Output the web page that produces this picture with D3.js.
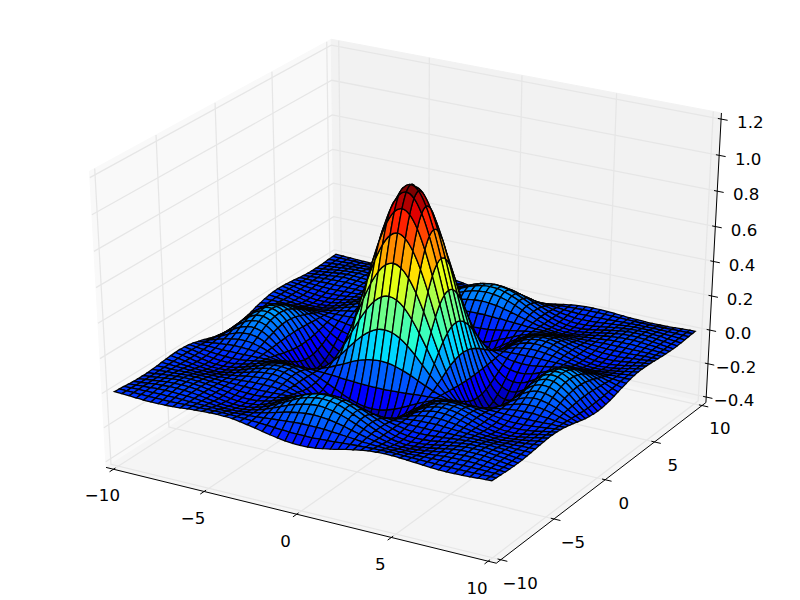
<!DOCTYPE html>
<html>
<head>
<meta charset="utf-8">
<script src="https://cdn.jsdelivr.net/npm/d3@7/dist/d3.min.js"></script>
<style>html,body{margin:0;padding:0;background:#fff}svg{display:block}text{font-family:"DejaVu Sans";font-size:16.67px;fill:#000}</style>
</head>
<body>
<svg id="chart" width="800" height="600"></svg>
<script>
// mesh lines along each horizontal axis
const gridSigned = [-10,-9.6,-9.2,-8.8,-8.4,-8,-7.6,-7.2,-6.8,-6.4,-6,-5.6,-5.2,-4.8,-4.4,-4,-3.6,-3.2,-2.8,-2.4,-2,-1.6,-1.2,-0.8,-0.4,0,0.4,0.8,1.2,1.6,2,2.4,2.8,3.2,3.6,4,4.4,4.8,5.2,5.6,6,6.4,6.8,7.2,7.6,8,8.4,8.8,9.2,9.6,9.9];
// distance from the centre that each table row / column stands for
const gridCoords = [0,0.4,0.8,1.2,1.6,2,2.4,2.8,3.2,3.6,4,4.4,4.8,5.2,5.6,6,6.4,6.8,7.2,7.6,8,8.4,8.8,9.2,9.6,9.9,10];
// surface heights for one quadrant (the surface reads as four-fold symmetric): row = |y|, column = |x|
const zQuadrant = [
[1,.974,.897,.777,.625,.455,.281,.12,-.018,-.123,-.189,-.216,-.208,-.17,-.113,-.047,.018,.073,.11,.127,.124,.102,.067,.024,-.018,-.046,-.054],
[.974,.948,.873,.756,.608,.443,.274,.116,-.018,-.12,-.184,-.211,-.202,-.165,-.11,-.045,.018,.071,.107,.124,.12,.099,.065,.024,-.018,-.045,-.053],
[.897,.873,.804,.696,.56,.408,.252,.107,-.016,-.11,-.17,-.194,-.186,-.152,-.101,-.042,.016,.065,.099,.114,.111,.091,.06,.022,-.016,-.041,-.049],
[.777,.756,.696,.603,.485,.353,.219,.093,-.014,-.095,-.147,-.168,-.161,-.132,-.088,-.036,.014,.056,.086,.099,.096,.079,.052,.019,-.014,-.036,-.042],
[.625,.608,.56,.485,.39,.284,.176,.075,-.011,-.077,-.118,-.135,-.13,-.106,-.07,-.029,.011,.045,.069,.08,.077,.064,.042,.015,-.011,-.029,-.034],
[.455,.443,.408,.353,.284,.207,.128,.054,-.008,-.056,-.086,-.098,-.094,-.077,-.051,-.021,.008,.033,.05,.058,.056,.046,.03,.011,-.008,-.021,-.025],
[.281,.274,.252,.219,.176,.128,.079,.034,-.005,-.035,-.053,-.061,-.058,-.048,-.032,-.013,.005,.02,.031,.036,.035,.029,.019,.007,-.005,-.013,-.015],
[.12,.116,.107,.093,.075,.054,.034,.014,-.002,-.015,-.023,-.026,-.025,-.02,-.013,-.006,.002,.009,.013,.015,.015,.012,.008,.003,-.002,-.006,-.007],
[-.018,-.018,-.016,-.014,-.011,-.008,-.005,-.002,0,.002,.003,.004,.004,.003,.002,.001,0,-.001,-.002,-.002,-.002,-.002,-.001,0,0,.001,.001],
[-.123,-.12,-.11,-.095,-.077,-.056,-.035,-.015,.002,.015,.023,.027,.026,.021,.014,.006,-.002,-.009,-.014,-.016,-.015,-.012,-.008,-.003,.002,.006,.007],
[-.189,-.184,-.17,-.147,-.118,-.086,-.053,-.023,.003,.023,.036,.041,.039,.032,.021,.009,-.003,-.014,-.021,-.024,-.023,-.019,-.013,-.005,.003,.009,.01],
[-.216,-.211,-.194,-.168,-.135,-.098,-.061,-.026,.004,.027,.041,.047,.045,.037,.024,.01,-.004,-.016,-.024,-.028,-.027,-.022,-.014,-.005,.004,.01,.012],
[-.208,-.202,-.186,-.161,-.13,-.094,-.058,-.025,.004,.026,.039,.045,.043,.035,.023,.01,-.004,-.015,-.023,-.026,-.026,-.021,-.014,-.005,.004,.01,.011],
[-.17,-.165,-.152,-.132,-.106,-.077,-.048,-.02,.003,.021,.032,.037,.035,.029,.019,.008,-.003,-.012,-.019,-.022,-.021,-.017,-.011,-.004,.003,.008,.009],
[-.113,-.11,-.101,-.088,-.07,-.051,-.032,-.013,.002,.014,.021,.024,.023,.019,.013,.005,-.002,-.008,-.012,-.014,-.014,-.011,-.007,-.003,.002,.005,.006],
[-.047,-.045,-.042,-.036,-.029,-.021,-.013,-.006,.001,.006,.009,.01,.01,.008,.005,.002,-.001,-.003,-.005,-.006,-.006,-.005,-.003,-.001,.001,.002,.003],
[.018,.018,.016,.014,.011,.008,.005,.002,0,-.002,-.003,-.004,-.004,-.003,-.002,-.001,0,.001,.002,.002,.002,.002,.001,0,0,-.001,-.001],
[.073,.071,.065,.056,.045,.033,.02,.009,-.001,-.009,-.014,-.016,-.015,-.012,-.008,-.003,.001,.005,.008,.009,.009,.007,.005,.002,-.001,-.003,-.004],
[.11,.107,.099,.086,.069,.05,.031,.013,-.002,-.014,-.021,-.024,-.023,-.019,-.012,-.005,.002,.008,.012,.014,.014,.011,.007,.003,-.002,-.005,-.006],
[.127,.124,.114,.099,.08,.058,.036,.015,-.002,-.016,-.024,-.028,-.026,-.022,-.014,-.006,.002,.009,.014,.016,.016,.013,.008,.003,-.002,-.006,-.007],
[.124,.12,.111,.096,.077,.056,.035,.015,-.002,-.015,-.023,-.027,-.026,-.021,-.014,-.006,.002,.009,.014,.016,.015,.013,.008,.003,-.002,-.006,-.007],
[.102,.099,.091,.079,.064,.046,.029,.012,-.002,-.012,-.019,-.022,-.021,-.017,-.011,-.005,.002,.007,.011,.013,.013,.01,.007,.002,-.002,-.005,-.006],
[.067,.065,.06,.052,.042,.03,.019,.008,-.001,-.008,-.013,-.014,-.014,-.011,-.007,-.003,.001,.005,.007,.008,.008,.007,.004,.002,-.001,-.003,-.004],
[.024,.024,.022,.019,.015,.011,.007,.003,0,-.003,-.005,-.005,-.005,-.004,-.003,-.001,0,.002,.003,.003,.003,.002,.002,.001,0,-.001,-.001],
[-.018,-.018,-.016,-.014,-.011,-.008,-.005,-.002,0,.002,.003,.004,.004,.003,.002,.001,0,-.001,-.002,-.002,-.002,-.002,-.001,0,0,.001,.001],
[-.046,-.045,-.041,-.036,-.029,-.021,-.013,-.006,.001,.006,.009,.01,.01,.008,.005,.002,-.001,-.003,-.005,-.006,-.006,-.005,-.003,-.001,.001,.002,.003],
[-.054,-.053,-.049,-.042,-.034,-.025,-.015,-.007,.001,.007,.01,.012,.011,.009,.006,.003,-.001,-.004,-.006,-.007,-.007,-.006,-.004,-.001,.001,.003,.003]
];
const xTicks = [-10,-5,0,5,10];
const yTicks = [-10,-5,0,5,10];
const zTicks = [-0.4,-0.2,0,0.2,0.4,0.6,0.8,1.0,1.2];
const xDomain = [-10,10], yDomain = [-10,10], zDomain = [-0.4,1.2];

// view: elevation 30, azimuth -60, distance 10
const elev = 30*Math.PI/180, azim = -60*Math.PI/180, dist = 10;
const wx = d3.scaleLinear().domain(xDomain).range([0,1]);
const wy = d3.scaleLinear().domain(yDomain).range([0,1]);
const wz = d3.scaleLinear().domain(zDomain).range([0,1]);
const E = [0.5+Math.cos(azim)*Math.cos(elev)*dist, 0.5+Math.sin(azim)*Math.cos(elev)*dist, 0.5+Math.sin(elev)*dist];
const n = [E[0]-.5,E[1]-.5,E[2]-.5].map(d=>d/dist);
const uLen = Math.hypot(n[0],n[1]);
const u = [-n[1]/uLen, n[0]/uLen, 0];
const v = [n[1]*u[2]-n[2]*u[1], n[2]*u[0]-n[0]*u[2], n[0]*u[1]-n[1]*u[0]];
const sx = d3.scaleLinear().domain([-0.095,0.09]).range([0,800]);
const sy = d3.scaleLinear().domain([-0.095,0.09]).range([600,0]);
function project(x,y,z){
  const p=[wx(x)-E[0],wy(y)-E[1],wz(z)-E[2]];
  const xv=d3.sum(p,(d,i)=>d*u[i]), yv=d3.sum(p,(d,i)=>d*v[i]), zv=d3.sum(p,(d,i)=>d*n[i]);
  return {x:sx(xv/-zv), y:sy(yv/-zv), depth:dist/zv};
}
const dx=(xDomain[1]-xDomain[0])/12, dy=(yDomain[1]-yDomain[0])/12, dz=(zDomain[1]-zDomain[0])/12;
const x0=xDomain[0]-dx/4,x1=xDomain[1]+dx/4,y0=yDomain[0]-dy/4,y1=yDomain[1]+dy/4,z0=zDomain[0]-dz/4,z1=zDomain[1]+dz/4;

const svg=d3.select("#chart");
const line=d3.line().x(d=>d.x).y(d=>d.y);
const path3=pts=>line(pts.map(p=>project(...p)));

// panes
const panes=[
 {c:"#f9f9f9",pts:[[x0,y0,z0],[x0,y1,z0],[x0,y1,z1],[x0,y0,z1]]},
 {c:"#f2f2f2",pts:[[x0,y1,z0],[x1,y1,z0],[x1,y1,z1],[x0,y1,z1]]},
 {c:"#f5f5f5",pts:[[x0,y0,z0],[x1,y0,z0],[x1,y1,z0],[x0,y1,z0]]}
];
svg.append("g").selectAll("path").data(panes).join("path")
  .attr("d",d=>path3(d.pts)+"Z").attr("fill",d=>d.c).attr("stroke",d=>d.c).attr("stroke-width",1);

// grid
const gridLines=[
 ...xTicks.map(t=>[[t,y0,z0],[t,y1,z0],[t,y1,z1]]),
 ...yTicks.map(t=>[[x1,t,z0],[x0,t,z0],[x0,t,z1]]),
 ...zTicks.map(t=>[[x0,y0,t],[x0,y1,t],[x1,y1,t]])
];
svg.append("g").selectAll("path").data(gridLines).join("path")
  .attr("d",path3).attr("fill","none").attr("stroke","#e6e6e6").attr("stroke-width",1.25);

// axis lines and ticks
const axisLines=[[[x0,y0,z0],[x1,y0,z0]],[[x1,y0,z0],[x1,y1,z0]],[[x1,y1,z0],[x1,y1,z1]]];
const out=0.2,inn=0.1,lab=0.6;
const tickLines=[
 ...xTicks.map(t=>[[t,y0-out*dy,z0],[t,y0+inn*dy,z0]]),
 ...yTicks.map(t=>[[x1+out*dx,t,z0],[x1-inn*dx,t,z0]]),
 ...zTicks.map(t=>[[x1+out*dx,y1,t],[x1-inn*dx,y1,t]])
];
svg.append("g").selectAll("path").data(axisLines.concat(tickLines)).join("path")
  .attr("d",path3).attr("fill","none").attr("stroke","#000").attr("stroke-width",1);

// tick labels
const fmt=t=>String(t).replace("-","\u2212");
const fmtZ=t=>t.toFixed(1).replace("-","\u2212");
const labels=[
 ...xTicks.map(t=>({t:fmt(t),p:[t,y0-lab*dy,z0-lab*dz],o:11})),
 ...yTicks.map(t=>({t:fmt(t),p:[x1+lab*dx,t,z0-lab*dz],o:11})),
 ...zTicks.map(t=>({t:fmtZ(t),p:[x1+lab*dx,y1+lab*dy,t],o:12}))
];
svg.append("g").selectAll("text").data(labels).join("text")
  .attr("x",d=>project(...d.p).x).attr("y",d=>project(...d.p).y+d.o)
  .attr("text-anchor","middle").text(d=>d.t);

// surface
const N=gridSigned.length;
const zAt=(i,j)=>zQuadrant[gridCoords.indexOf(Math.abs(gridSigned[j]))][gridCoords.indexOf(Math.abs(gridSigned[i]))];
const P=d3.range(N).map(i=>d3.range(N).map(j=>project(gridSigned[i],gridSigned[j],zAt(i,j))));
const clampI=k=>Math.max(0,Math.min(N-1,k));
const at=(i,j)=>P[clampI(i)][clampI(j)];
// one mesh side as a smooth stroke through its neighbours along the same mesh line
function side(i,j,di,dj){
  const p0=at(i-di,j-dj),p1=at(i,j),p2=at(i+di,j+dj),p3=at(i+2*di,j+2*dj);
  const f=n=>n.toFixed(2);
  return `C${f(p1.x+(p2.x-p0.x)/6)},${f(p1.y+(p2.y-p0.y)/6)} ${f(p2.x-(p3.x-p1.x)/6)},${f(p2.y-(p3.y-p1.y)/6)} ${f(p2.x)},${f(p2.y)}`;
}
const cells=[];
for(const i of d3.range(N-1)) for(const j of d3.range(N-1)){
  const pr=[P[i][j],P[i+1][j],P[i+1][j+1],P[i][j+1]];
  const d=`M${P[i][j].x.toFixed(2)},${P[i][j].y.toFixed(2)}`+side(i,j,1,0)+side(i+1,j,0,1)+side(i+1,j+1,-1,0)+side(i,j+1,0,-1)+"Z";
  cells.push({d,avg:d3.mean([zAt(i,j),zAt(i+1,j),zAt(i+1,j+1),zAt(i,j+1)]),depth:d3.mean(pr,p=>p.depth)});
}
const norm=d3.scaleLinear().domain(d3.extent(cells,c=>c.avg)).range([0,1]);
const rS=d3.scaleLinear().domain([0,.35,.66,.89,1]).range([0,0,1,1,.5]).clamp(true);
const gS=d3.scaleLinear().domain([0,.125,.375,.64,.91,1]).range([0,0,1,1,0,0]).clamp(true);
const bS=d3.scaleLinear().domain([0,.11,.34,.65,1]).range([.5,1,1,0,0]).clamp(true);
const jet=t=>d3.rgb(255*rS(t),255*gS(t),255*bS(t)).formatHex();
cells.sort((p,q)=>d3.descending(p.depth,q.depth));
svg.append("g").selectAll("path").data(cells).join("path")
  .attr("d",d=>d.d).attr("fill",d=>jet(norm(d.avg)))
  .attr("stroke","#000").attr("stroke-width",1.3).attr("stroke-linejoin","miter");
</script>
</body>
</html>
